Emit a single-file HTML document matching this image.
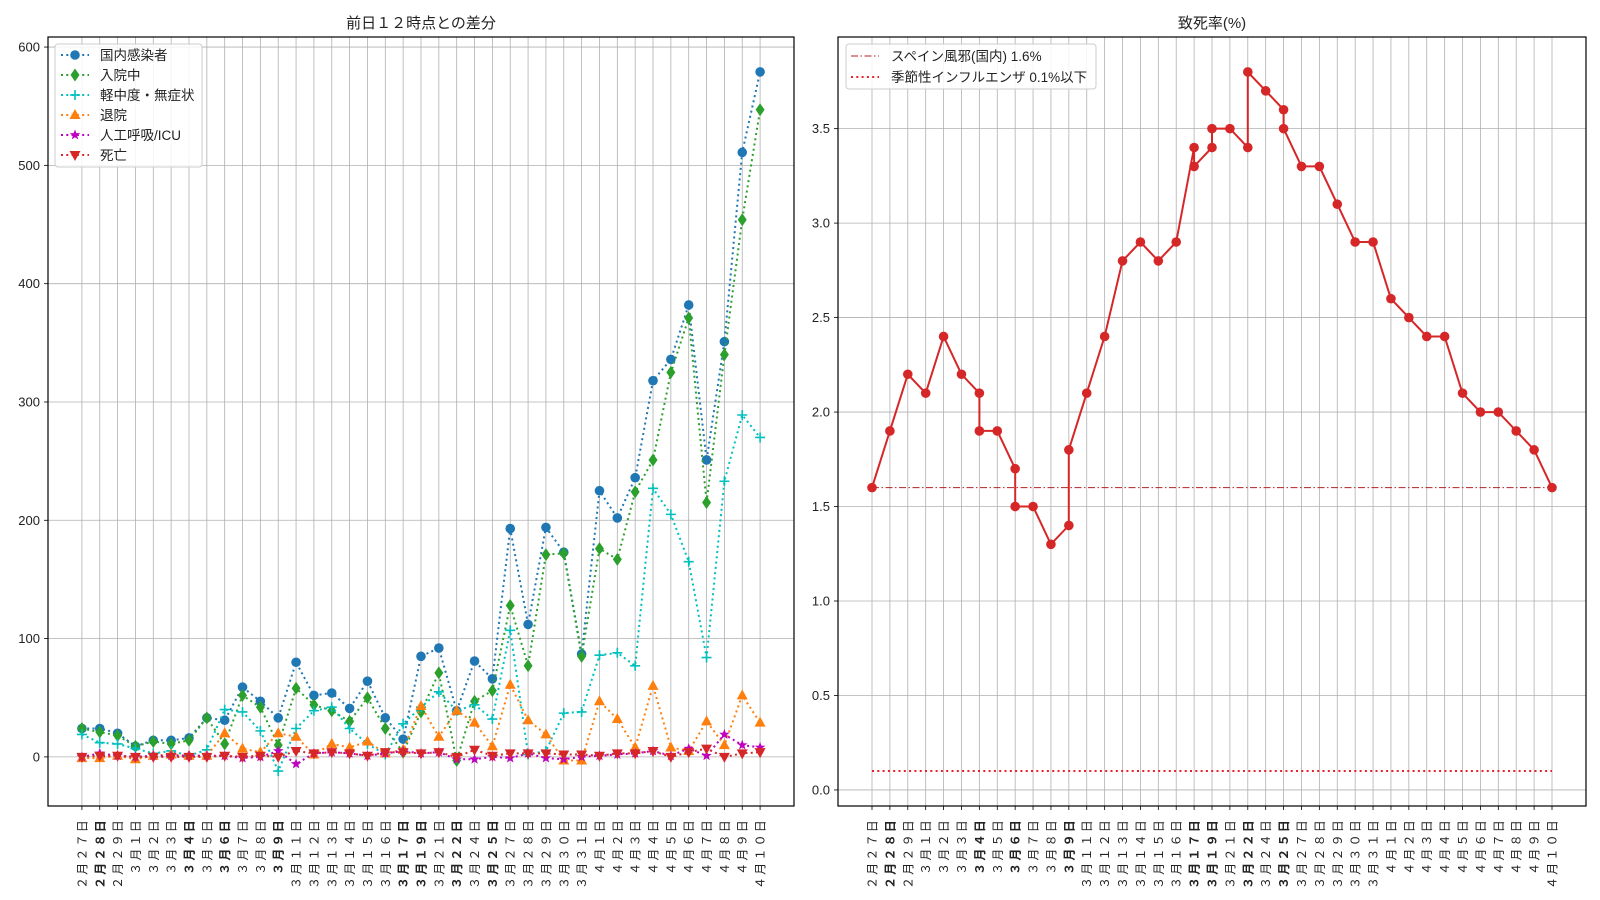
<!DOCTYPE html>
<html><head><meta charset="utf-8">
<style>
body{margin:0;background:#fff;}
svg{display:block;font-family:"Liberation Sans","Noto Sans CJK JP",sans-serif;}
</style></head>
<body>
<svg id="chart" width="1600" height="900" xmlns="http://www.w3.org/2000/svg">
<rect width="1600" height="900" fill="#fff"/>
<text x="421" y="28" font-size="15" text-anchor="middle" fill="#222">前日１２時点との差分</text>
<text x="1212" y="28" font-size="15" text-anchor="middle" fill="#222">致死率(%)</text>
<g id="left"></g>
<g id="right"></g>
</svg>
<script>
const categories=["2月27日","2月28日","2月29日","3月1日","3月2日","3月3日","3月4日","3月5日","3月6日","3月7日","3月8日","3月9日","3月11日","3月12日","3月13日","3月14日","3月15日","3月16日","3月17日","3月19日","3月21日","3月22日","3月24日","3月25日","3月27日","3月28日","3月29日","3月30日","3月31日","4月1日","4月2日","4月3日","4月4日","4月5日","4月6日","4月7日","4月8日","4月9日","4月10日"];
const boldCategories=["2月28日","3月4日","3月6日","3月9日","3月17日","3月19日","3月22日","3月25日"];
const infected=[24,24,20,9,14,14,16,33,31,59,47,33,80,52,54,41,64,33,15,85,92,39,81,66,193,112,194,173,87,225,202,236,318,336,382,251,351,511,579];
const hospitalized=[24,21,18,9,13,11,14,33,11,52,42,10,58,44,39,30,50,24,4,38,71,-3,47,56,128,77,171,172,85,176,167,224,251,325,371,215,340,454,547];
const mild=[19,12,11,7,3,5,1,6,40,38,22,-12,24,39,42,24,11,2,28,42,55,39,44,32,107,2,5,37,38,86,88,77,227,205,165,84,233,289,270];
const discharged=[-1,-1,1,-2,1,2,1,1,20,7,4,20,17,2,11,8,13,3,6,43,17,39,29,9,61,31,19,-3,-3,47,32,8,60,8,5,30,10,52,29];
const icu=[0,3,1,0,1,1,1,1,1,-1,0,5,-6,3,4,3,1,3,5,3,4,-2,-2,0,-1,3,-1,-2,0,1,2,3,5,1,7,1,19,10,8];
const deaths=[0,1,1,0,0,0,0,0,1,0,1,0,5,3,4,3,1,4,4,3,4,0,6,1,3,3,3,2,2,1,3,3,5,0,4,7,0,3,4];
const leftTicks=[0,100,200,300,400,500,600];
const rateDates=["2月27日","2月28日","2月29日","3月1日","3月2日","3月3日","3月4日","3月4日","3月5日","3月6日","3月6日","3月7日","3月8日","3月9日","3月9日","3月11日","3月12日","3月13日","3月14日","3月15日","3月16日","3月17日","3月17日","3月19日","3月19日","3月21日","3月22日","3月22日","3月24日","3月25日","3月25日","3月27日","3月28日","3月29日","3月30日","3月31日","4月1日","4月2日","4月3日","4月4日","4月5日","4月6日","4月7日","4月8日","4月9日","4月10日"];
const rateValues=[1.6,1.9,2.2,2.1,2.4,2.2,2.1,1.9,1.9,1.7,1.5,1.5,1.3,1.4,1.8,2.1,2.4,2.8,2.9,2.8,2.9,3.4,3.3,3.4,3.5,3.5,3.4,3.8,3.7,3.6,3.5,3.3,3.3,3.1,2.9,2.9,2.6,2.5,2.4,2.4,2.1,2.0,2.0,1.9,1.8,1.6];
const spanishFlu=[1.6];
const seasonalFlu=[0.1];
const rightTicks=[0.0,0.5,1.0,1.5,2.0,2.5,3.0,3.5];

const NS="http://www.w3.org/2000/svg";
function mk(parent,tag,attrs){const e=document.createElementNS(NS,tag);for(const k in attrs)e.setAttribute(k,attrs[k]);parent.appendChild(e);return e;}
function full(s){return s.replace(/[0-9]/g,d=>String.fromCharCode(d.charCodeAt(0)+0xFEE0));}

function setupAxes(g,box,ymin,ymax,ticks,fmt){
  const n=categories.length;
  const xs=i=>box.x0+(i+1.9)/(n-1+3.8)*(box.x1-box.x0);
  const ys=v=>box.y1-(v-ymin)/(ymax-ymin)*(box.y1-box.y0);
  categories.forEach((c,i)=>{
    const x=xs(i);
    const gl=mk(g,'line',{x1:x,x2:x,y1:box.y0,y2:box.y1,stroke:'#b0b0b0','stroke-width':0.8});
    
    
    const tk=mk(g,'line',{x1:x,x2:x,y1:box.y1,y2:box.y1+4,stroke:'#000','stroke-width':0.8});
    
    
    const t=mk(g,'text',{x:0,y:0,transform:`translate(${x+4.5},${box.y1+12}) rotate(-90)`,'font-size':12,'text-anchor':'end',fill:'#222','font-weight':boldCategories.includes(c)?'bold':'normal','letter-spacing':'2.2'});
    t.textContent=full(c);
    
    
  });
  ticks.forEach(v=>{
    const y=ys(v);
    const gl=mk(g,'line',{x1:box.x0,x2:box.x1,y1:y,y2:y,stroke:'#b0b0b0','stroke-width':0.8});
    
    
    const tk=mk(g,'line',{x1:box.x0-4,x2:box.x0,y1:y,y2:y,stroke:'#000','stroke-width':0.8});
    
    
    const t=mk(g,'text',{x:box.x0-8,y:y+4.5,'font-size':13,'text-anchor':'end',fill:'#222'});
    t.textContent=fmt(v);
    
    
  });
  return {xs,ys};
}
function frame(g,box){
  const r=mk(g,'rect',{x:box.x0,y:box.y0,width:box.x1-box.x0,height:box.y1-box.y0,fill:'none',stroke:'#000','stroke-width':1.2});
  
  
}
function marker(g,type,x,y,color){
  let e;
  if(type==='o') e=mk(g,'circle',{cx:x,cy:y,r:4.8,fill:color});
  else if(type==='d') e=mk(g,'polygon',{points:`${x},${y-6.5} ${x+4.5},${y} ${x},${y+6.5} ${x-4.5},${y}`,fill:color});
  else if(type==='+') e=mk(g,'path',{d:`M${x-5},${y}H${x+5}M${x},${y-5}V${y+5}`,stroke:color,'stroke-width':1.6,fill:'none'});
  else if(type==='^') e=mk(g,'polygon',{points:`${x},${y-6} ${x+5.5},${y+4} ${x-5.5},${y+4}`,fill:color});
  else if(type==='v') e=mk(g,'polygon',{points:`${x},${y+6} ${x+5.5},${y-4} ${x-5.5},${y-4}`,fill:color});
  else if(type==='*'){let p=[];for(let k=0;k<10;k++){const a=-Math.PI/2+k*Math.PI/5,rr=k%2?2.3:5.5;p.push((x+rr*Math.cos(a)).toFixed(1)+','+(y+rr*Math.sin(a)).toFixed(1));}e=mk(g,'polygon',{points:p.join(' '),fill:color});}
  return e;
}

// LEFT
const L=document.getElementById('left');
const lbox={x0:48,x1:794,y0:37,y1:806};
const la=setupAxes(L,lbox,-41.5,608.5,leftTicks,v=>String(v));
const seriesList=[
 {name:'国内感染者',data:infected,color:'#1f77b4',m:'o',id:'infected'},
 {name:'入院中',data:hospitalized,color:'#2ca02c',m:'d',id:'hospitalized'},
 {name:'軽中度・無症状',data:mild,color:'#00bfbf',m:'+',id:'mild'},
 {name:'退院',data:discharged,color:'#ff7f0e',m:'^',id:'discharged'},
 {name:'人工呼吸/ICU',data:icu,color:'#bf00bf',m:'*',id:'icu'},
 {name:'死亡',data:deaths,color:'#d62728',m:'v',id:'deaths'}
];
seriesList.forEach(s=>{
  const g=mk(L,'g',{});
  
  
  const pts=s.data.map((v,i)=>la.xs(i).toFixed(1)+','+la.ys(v).toFixed(1)).join(' ');
  const pl=mk(g,'polyline',{points:pts,fill:'none',stroke:s.color,'stroke-width':2,'stroke-dasharray':'2,3.3'});
  
  
  s.data.forEach((v,i)=>{
    const e=marker(g,s.m,la.xs(i),la.ys(v),s.color);
    
    
  });
});
frame(L,lbox);
const lg=mk(L,'g',{});


mk(lg,'rect',{x:55,y:44,width:147,height:123,rx:3,fill:'#fff','fill-opacity':0.85,stroke:'#ccc'});
seriesList.forEach((s,k)=>{
  const y=55+k*20;
  const it=mk(lg,'g',{});
  
  
  mk(it,'line',{x1:61,x2:89,y1:y,y2:y,stroke:s.color,'stroke-width':2,'stroke-dasharray':'2,3.3'});
  marker(it,s.m,75,y,s.color);
  const t=mk(it,'text',{x:100,y:y+5,'font-size':13.5,fill:'#222'});
  t.textContent=s.name;
});

// RIGHT
const R=document.getElementById('right');
const rbox={x0:838,x1:1586,y0:37,y1:806};
const ra=setupAxes(R,rbox,-0.085,3.985,rightTicks,v=>v.toFixed(1));
const xr=i=>ra.xs(i);
const refG=mk(R,'g',{});


const sp=mk(refG,'line',{x1:xr(0),x2:xr(categories.length-1),y1:ra.ys(spanishFlu[0]),y2:ra.ys(spanishFlu[0]),stroke:'#b22222','stroke-width':1,'stroke-dasharray':'7,2.5,1.5,2.5'});


const sf=mk(refG,'line',{x1:xr(0),x2:xr(categories.length-1),y1:ra.ys(seasonalFlu[0]),y2:ra.ys(seasonalFlu[0]),stroke:'#e8202a','stroke-width':2,'stroke-dasharray':'2,3.3'});


const rg=mk(R,'g',{});


const rpts=rateValues.map((v,k)=>xr(categories.indexOf(rateDates[k])).toFixed(1)+','+ra.ys(v).toFixed(1)).join(' ');
const rl=mk(rg,'polyline',{points:rpts,fill:'none',stroke:'#d62728','stroke-width':2});


rateValues.forEach((v,k)=>{
  const c=mk(rg,'circle',{cx:xr(categories.indexOf(rateDates[k])),cy:ra.ys(v),r:4.8,fill:'#d62728'});
  
  
});
frame(R,rbox);
const rlg=mk(R,'g',{});


mk(rlg,'rect',{x:846,y:44,width:250,height:45,rx:3,fill:'#fff','fill-opacity':0.85,stroke:'#ccc'});
const e1=mk(rlg,'g',{});


mk(e1,'line',{x1:851,x2:879,y1:56,y2:56,stroke:'#b22222','stroke-width':1,'stroke-dasharray':'7,2.5,1.5,2.5'});
const t1=mk(e1,'text',{x:891,y:61,'font-size':13.5,fill:'#222'});t1.textContent='スペイン風邪(国内) 1.6%';
const e2=mk(rlg,'g',{});


mk(e2,'line',{x1:851,x2:879,y1:77,y2:77,stroke:'#e8202a','stroke-width':2,'stroke-dasharray':'2,3.3'});
const t2=mk(e2,'text',{x:891,y:82,'font-size':13.5,fill:'#222'});t2.textContent='季節性インフルエンザ 0.1%以下';
</script>
</body></html>
